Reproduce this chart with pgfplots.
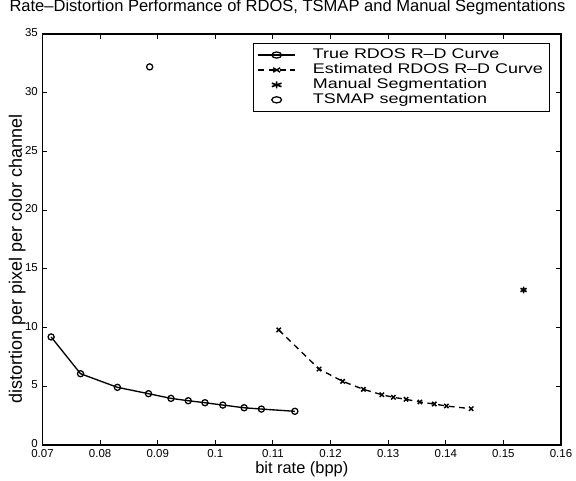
\documentclass[border=0pt]{standalone}
\usepackage{pgfplots}
\pgfplotsset{compat=1.18}
\usepackage{fontspec}
\setmainfont{Liberation Sans}
\newfontfamily\legfont[FakeStretch=1.28, Ligatures=TeX]{Liberation Sans}
\begin{document}
\begin{tikzpicture}
\begin{axis}[
  at={(0,0)}, anchor=south west,
  scale only axis,
  width=388.9pt, height=308.25pt,
  xmin=0.07, xmax=0.16, ymin=0, ymax=35,
  xtick={0.07,0.08,0.09,0.1,0.11,0.12,0.13,0.14,0.15,0.16},
  xticklabels={0.07,0.08,0.09,0.1,0.11,0.12,0.13,0.14,0.15,0.16},
  ytick={0,5,10,15,20,25,30,35},
  scaled x ticks=false,
  tick align=inside,
  tick pos=both,
  major tick length=3.75pt,
  tick style={black, line width=0.8pt},
  axis line style={line width=1pt},
  /pgf/number format/assume math mode=true,
  tick label style={font=\fontsize{8.6}{10}\selectfont},
  yticklabel style={yshift=1pt},
  xlabel={bit rate (bpp)},
  xlabel style={font=\fontsize{12.3}{14}\selectfont, at={(axis description cs:0.5,0)}, anchor=base, yshift=-21.75pt},
  title={Rate--Distortion Performance of RDOS, TSMAP and Manual Segmentations},
  title style={font=\fontsize{12.4}{15}\selectfont, at={(axis description cs:0.5,1)}, anchor=base, yshift=11pt, xshift=-10.7pt},
  legend style={at={(0.979,0.978)}, anchor=north east, draw=black, line width=0.8pt,
    font=\legfont\fontsize{10.5}{12}\selectfont, row sep=0pt, column sep=11pt,
    inner xsep=3pt, inner ysep=3pt,
    nodes={text height=7.6pt, text depth=2.4pt, inner ysep=0.6pt},
    cells={anchor=west}},
  legend cell align=left,
  legend image post style={xscale=1.6},
]
\addplot[black, line width=1pt, mark=o, mark size=2.3pt, mark options={solid, line width=0.95pt}] coordinates {
(0.0715,9.2) (0.0766,6.07) (0.0830,4.91) (0.0884,4.37) (0.0923,3.97) (0.0953,3.77)
(0.0982,3.60) (0.1013,3.40) (0.1050,3.17) (0.1080,3.06) (0.1138,2.87)
};
\addlegendentry{True RDOS R--D Curve}
\addplot[black, line width=1pt, dash pattern=on 4.5pt off 3.5pt, mark=x, mark size=2.3pt, mark options={solid, line width=1.1pt}] coordinates {
(0.1110,9.80) (0.1180,6.47) (0.1221,5.42) (0.1257,4.74) (0.1289,4.28) (0.1309,4.06)
(0.1331,3.89) (0.1355,3.66) (0.1380,3.49) (0.1401,3.32) (0.1444,3.09)
};
\addlegendentry{Estimated RDOS R--D Curve}
\addplot[only marks, black, mark=asterisk, mark size=2.6pt, mark options={line width=1.2pt}] coordinates {(0.1535,13.2)};
\addlegendentry{Manual Segmentation}
\addplot[only marks, black, mark=o, mark size=2.3pt, mark options={line width=0.95pt}] coordinates {(0.0886,32.2)};
\addlegendentry{TSMAP segmentation}
\end{axis}
\node[rotate=90, anchor=base, font=\fontsize{13.5}{15}\selectfont] at (-15.4pt,139.3pt) {distortion per pixel per color channel};
\pgfresetboundingbox
\path (-31.875pt,-27pt) rectangle (400.125pt,333.75pt);
\end{tikzpicture}
\end{document}
